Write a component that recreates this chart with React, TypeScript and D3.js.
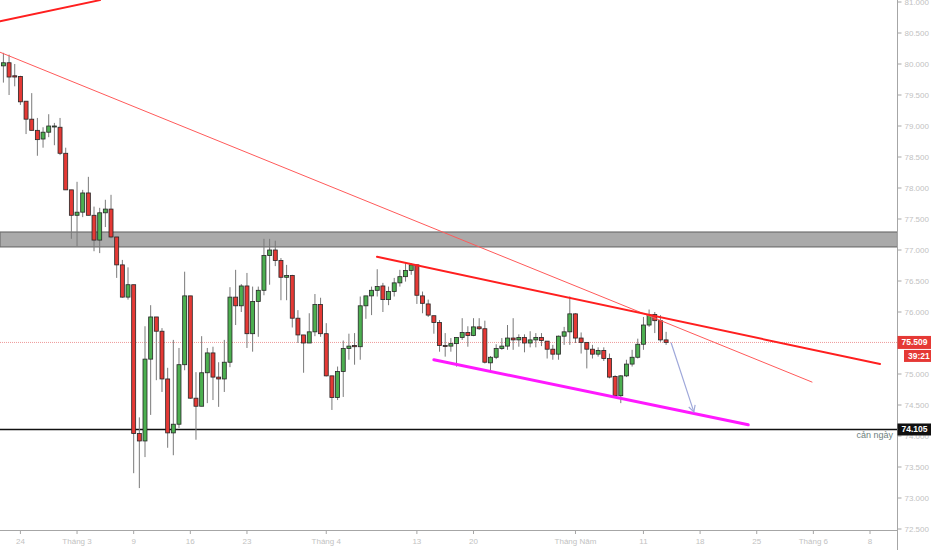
import { useEffect, useRef } from 'react';
import * as d3 from 'd3';

// OHLC, one entry per candle (index = position on the time axis)
const opens = [
  79.97, 80.02, 79.81, 79.8, 79.4, 79.11, 78.93, 78.79, 78.9, 79.0,
  78.98, 78.56, 77.97, 77.56, 77.61, 77.92, 77.56, 77.16, 77.6, 77.66,
  77.21, 76.76, 76.24, 76.44, 74.04, 73.92, 75.24, 75.92, 75.69, 74.92,
  74.05, 74.19, 75.15, 76.26, 74.61, 74.48, 75.02, 75.34, 74.95, 74.92,
  75.19, 76.24, 76.1, 76.42, 75.65, 76.17, 76.35, 76.91, 77.0, 76.83,
  76.56, 76.59, 75.9, 75.63, 75.5, 75.68, 76.12, 75.65, 74.97, 74.62,
  75.04, 75.41, 75.46, 75.44, 76.1, 76.26, 76.35, 76.42, 76.2, 76.33,
  76.47, 76.57, 76.67, 76.76, 76.26, 76.13, 75.94, 75.83, 75.46, 75.45,
  75.49, 75.59, 75.67, 75.62, 75.76, 75.73, 75.18, 75.27, 75.41, 75.45,
  75.58, 75.55, 75.59, 75.5, 75.55, 75.59, 75.53, 75.4, 75.32, 75.61,
  75.68, 75.97, 75.58, 75.51, 75.4, 75.32, 75.38, 75.25, 74.96, 74.65,
  74.97, 75.16, 75.27, 75.48, 75.79, 75.96, 75.86, 75.55,
];
const highs = [
  80.18, 80.15, 80.0, 79.81, 79.4, 79.53, 79.13, 78.98, 79.19, 79.05,
  79.13, 78.65, 77.97, 78.1, 77.97, 78.18, 77.7, 77.68, 77.81, 77.89,
  77.21, 76.84, 76.72, 76.44, 74.3, 75.77, 76.11, 75.92, 75.74, 75.1,
  75.55, 75.42, 76.65, 76.26, 75.03, 75.61, 75.42, 75.44, 75.19, 75.55,
  76.4, 76.68, 76.45, 76.63, 76.41, 76.41, 77.18, 77.18, 77.15, 76.87,
  76.76, 76.6, 76.03, 75.63, 75.98, 76.29, 76.23, 75.82, 74.97, 75.12,
  75.54, 75.65, 75.66, 76.25, 76.26, 76.41, 76.69, 76.47, 76.41, 76.55,
  76.68, 76.79, 76.79, 76.77, 76.33, 76.2, 75.94, 75.87, 75.66, 75.58,
  75.59, 75.9, 75.77, 75.9, 75.9, 75.86, 75.29, 75.48, 75.58, 75.79,
  75.9, 75.64, 75.64, 75.69, 75.66, 75.66, 75.53, 75.47, 75.62, 75.76,
  76.25, 75.98, 75.67, 75.51, 75.47, 75.43, 75.43, 75.33, 74.98, 74.98,
  75.23, 75.39, 75.57, 75.92, 76.04, 76.0, 75.95, 75.68,
];
const lows = [
  79.7, 79.5, 79.64, 79.34, 78.87, 78.93, 78.52, 78.65, 78.82, 78.69,
  78.53, 77.97, 77.18, 77.06, 77.53, 77.56, 76.98, 76.95, 77.37, 77.19,
  76.55, 76.23, 76.2, 73.4, 73.16, 73.66, 74.34, 74.9, 74.71, 73.81,
  73.69, 74.13, 75.06, 74.6, 73.94, 74.48, 74.53, 74.58, 74.47, 74.71,
  75.11, 75.79, 76.0, 75.42, 75.36, 75.6, 76.27, 76.44, 76.74, 76.19,
  76.19, 75.75, 75.5, 75.02, 75.5, 75.61, 75.6, 74.96, 74.42, 74.58,
  74.63, 75.23, 75.15, 75.23, 75.89, 75.95, 76.25, 76.0, 76.11, 76.25,
  76.41, 76.49, 76.6, 76.13, 75.98, 75.92, 75.65, 75.36, 75.28, 75.36,
  75.12, 75.55, 75.44, 75.61, 75.71, 75.17, 75.02, 75.24, 75.39, 75.39,
  75.39, 75.44, 75.35, 75.43, 75.43, 75.45, 75.25, 75.23, 75.23, 75.47,
  75.47, 75.5, 75.33, 75.09, 75.25, 75.28, 75.21, 74.93, 74.63, 74.53,
  74.95, 75.12, 75.25, 75.39, 75.76, 75.66, 75.52, 75.47,
];
const closes = [
  80.02, 79.79, 79.79, 79.39, 79.11, 78.93, 78.78, 78.9, 79.0, 79.0,
  78.56, 77.97, 77.56, 77.61, 77.92, 77.56, 77.16, 77.6, 77.66, 77.21,
  76.76, 76.24, 76.44, 74.04, 73.92, 75.24, 75.92, 75.69, 74.92, 74.05,
  74.19, 75.15, 76.26, 74.61, 74.48, 75.02, 75.34, 74.95, 74.92, 75.19,
  76.24, 76.1, 76.42, 75.65, 76.17, 76.35, 76.91, 77.0, 76.83, 76.56,
  76.59, 75.9, 75.63, 75.5, 75.68, 76.12, 75.65, 74.97, 74.62, 75.04,
  75.41, 75.45, 75.44, 76.1, 76.26, 76.35, 76.41, 76.2, 76.33, 76.47,
  76.57, 76.67, 76.76, 76.27, 76.14, 75.95, 75.83, 75.46, 75.45, 75.49,
  75.59, 75.67, 75.62, 75.76, 75.73, 75.19, 75.27, 75.41, 75.45, 75.58,
  75.55, 75.59, 75.5, 75.55, 75.59, 75.54, 75.4, 75.32, 75.61, 75.68,
  75.97, 75.58, 75.51, 75.4, 75.32, 75.38, 75.25, 74.95, 74.65, 74.97,
  75.16, 75.27, 75.48, 75.79, 75.96, 75.86, 75.55, 75.51,
];

// time axis
const dateTickIdx = [3, 13, 23, 33, 43, 57, 73, 83, 101, 113, 123, 133, 143, 153];
const dateTickLabels = ['24', 'Tháng 3', '9', '16', '23', 'Tháng 4', '13', '20', 'Tháng Năm', '11', '18', '25', 'Tháng 6', '8'];

// price axis (75.500 sits under the last-price tag, so it is not listed)
const priceTicks = [72.5, 73, 73.5, 74, 74.5, 75, 76, 76.5, 77, 77.5, 78, 78.5, 79, 79.5, 80, 80.5, 81];
const lastPrice = 75.509;
const supportPrice = 74.105;
const zone = [77.05, 77.29];

// drawn lines: [idx0, price0, idx1, price1]
const trendTop = [-0.6, 80.69, 17.06, 81.03];
const trendLong = [-0.6, 80.19, 142.76, 74.87];
const channelTop = [65.96, 76.89, 154.77, 75.16];
const channelBottom = [76.0, 75.23, 131.5, 74.18];
const arrowLine = [117.9, 75.5, 121.9, 74.39];

export default function App() {
  const svgRef = useRef<SVGSVGElement>(null);

  useEffect(() => {
    document.body.style.margin = '0';
    if (!svgRef.current) return;

    const width = 932;
    const height = 550;
    const plotRight = 897.5;
    const plotBottom = 530;

    const svg = d3.select(svgRef.current);
    svg.selectAll('*').remove();
    svg.attr('width', width).attr('height', height);

    const x = d3.scaleLinear().domain([0, 153]).range([3.4, 870]);
    const y = d3.scaleLinear().domain([72.5, 81]).range([529, 2]);

    svg.append('rect').attr('width', width).attr('height', height).attr('fill', '#fff');

    const plot = svg.append('g');
    svg.append('defs')
      .append('clipPath')
      .attr('id', 'plotclip')
      .append('rect')
      .attr('width', plotRight)
      .attr('height', plotBottom);
    plot.attr('clip-path', 'url(#plotclip)');

    // resistance zone
    plot.append('rect')
      .attr('x', 0)
      .attr('y', y(zone[1]))
      .attr('width', plotRight)
      .attr('height', y(zone[0]) - y(zone[1]))
      .attr('fill', '#aaaaaa')
      .attr('stroke', '#6f6f6f')
      .attr('stroke-width', 1.2);

    // last price dotted line
    plot.append('line')
      .attr('x1', 0).attr('x2', plotRight)
      .attr('y1', y(lastPrice)).attr('y2', y(lastPrice))
      .attr('stroke', '#ef9a9a')
      .attr('stroke-width', 1)
      .attr('stroke-dasharray', '1,1');

    // support line
    plot.append('line')
      .attr('x1', 0).attr('x2', plotRight)
      .attr('y1', y(supportPrice)).attr('y2', y(supportPrice))
      .attr('stroke', '#111')
      .attr('stroke-width', 1.5);

    // candles
    const idx = d3.range(opens.length);
    const bodyW = 4;
    plot.selectAll('line.wick')
      .data(idx)
      .enter()
      .append('line')
      .attr('class', 'wick')
      .attr('x1', (i) => x(i))
      .attr('x2', (i) => x(i))
      .attr('y1', (i) => y(highs[i]))
      .attr('y2', (i) => y(lows[i]))
      .attr('stroke', '#7a7a7a')
      .attr('stroke-width', 1);

    plot.selectAll('rect.body')
      .data(idx)
      .enter()
      .append('rect')
      .attr('class', 'body')
      .attr('x', (i) => x(i) - bodyW / 2)
      .attr('y', (i) => y(Math.max(opens[i], closes[i])))
      .attr('width', bodyW)
      .attr('height', (i) => Math.max(1, Math.abs(y(opens[i]) - y(closes[i]))))
      .attr('fill', (i) => (closes[i] >= opens[i] ? '#4caf50' : '#e53935'))
      .attr('stroke', '#262626')
      .attr('stroke-width', 0.8);

    // drawings
    const seg = (d: number[], color: string, w: number) =>
      plot.append('line')
        .attr('x1', x(d[0])).attr('y1', y(d[1]))
        .attr('x2', x(d[2])).attr('y2', y(d[3]))
        .attr('stroke', color)
        .attr('stroke-width', w)
        .attr('stroke-linecap', 'round');

    seg(trendTop, '#ff1f1f', 2);
    seg(trendLong, '#ff5a5a', 1);
    seg(channelTop, '#ff1f1f', 2);
    seg(channelBottom, '#ff19ff', 3);
    seg(arrowLine, '#9fa8da', 1.2);

    // arrow head
    const ax = x(arrowLine[2]);
    const ay = y(arrowLine[3]);
    const ang = Math.atan2(ay - y(arrowLine[1]), ax - x(arrowLine[0]));
    const hl = 7;
    plot.append('path')
      .attr('d', `M${ax + hl * Math.cos(ang + Math.PI - 0.5)},${ay + hl * Math.sin(ang + Math.PI - 0.5)}L${ax},${ay}L${ax + hl * Math.cos(ang + Math.PI + 0.5)},${ay + hl * Math.sin(ang + Math.PI + 0.5)}`)
      .attr('fill', 'none')
      .attr('stroke', '#9fa8da')
      .attr('stroke-width', 1.2);

    // axes frame
    svg.append('line')
      .attr('x1', plotRight).attr('x2', plotRight)
      .attr('y1', 0).attr('y2', height)
      .attr('stroke', '#a6a6a6');
    svg.append('line')
      .attr('x1', 0).attr('x2', plotRight)
      .attr('y1', plotBottom + 0.5).attr('y2', plotBottom + 0.5)
      .attr('stroke', '#a6a6a6');

    const font = '"Liberation Sans", Arial, sans-serif';

    // price ticks
    const pt = svg.append('g');
    pt.selectAll('line')
      .data(priceTicks)
      .enter()
      .append('line')
      .attr('x1', plotRight).attr('x2', plotRight + 4)
      .attr('y1', (d) => y(d)).attr('y2', (d) => y(d))
      .attr('stroke', '#a6a6a6');
    pt.selectAll('text')
      .data(priceTicks)
      .enter()
      .append('text')
      .attr('x', plotRight + 7)
      .attr('y', (d) => y(d))
      .attr('dy', '0.35em')
      .attr('font-family', font)
      .attr('font-size', 8)
      .attr('fill', '#c2c2c2')
      .text((d) => d3.format('.3f')(d));

    // date ticks
    const dt = svg.append('g');
    dt.selectAll('line')
      .data(dateTickIdx)
      .enter()
      .append('line')
      .attr('x1', (d) => x(d)).attr('x2', (d) => x(d))
      .attr('y1', plotBottom).attr('y2', plotBottom + 4)
      .attr('stroke', '#a6a6a6');
    dt.selectAll('text')
      .data(dateTickIdx)
      .enter()
      .append('text')
      .attr('x', (d) => x(d))
      .attr('y', 544)
      .attr('text-anchor', 'middle')
      .attr('font-family', font)
      .attr('font-size', 8)
      .attr('fill', '#c2c2c2')
      .text((_, i) => dateTickLabels[i]);

    // price labels on the axis
    const tag = (py: number, x0: number, h: number, bg: string, label: string) => {
      svg.append('rect')
        .attr('x', x0).attr('y', py - h / 2)
        .attr('width', width - x0 - 1).attr('height', h)
        .attr('fill', bg);
      svg.append('text')
        .attr('x', x0 + 4).attr('y', py)
        .attr('dy', '0.35em')
        .attr('font-family', font)
        .attr('font-size', 8.5)
        .attr('font-weight', 'bold')
        .attr('fill', '#fff')
        .text(label);
    };
    tag(y(lastPrice), plotRight, 13, '#e53935', d3.format('.3f')(lastPrice));
    tag(y(lastPrice) + 13.5, 904, 12, '#e53935', '39:21');
    tag(y(supportPrice), plotRight, 12, '#111', d3.format('.3f')(supportPrice));

    svg.append('text')
      .attr('x', 893)
      .attr('y', y(supportPrice) + 9)
      .attr('text-anchor', 'end')
      .attr('font-family', font)
      .attr('font-size', 9)
      .attr('fill', '#6e7f80')
      .text('cản ngày');
  }, []);

  return <svg ref={svgRef} style={{ display: 'block' }} />;
}
